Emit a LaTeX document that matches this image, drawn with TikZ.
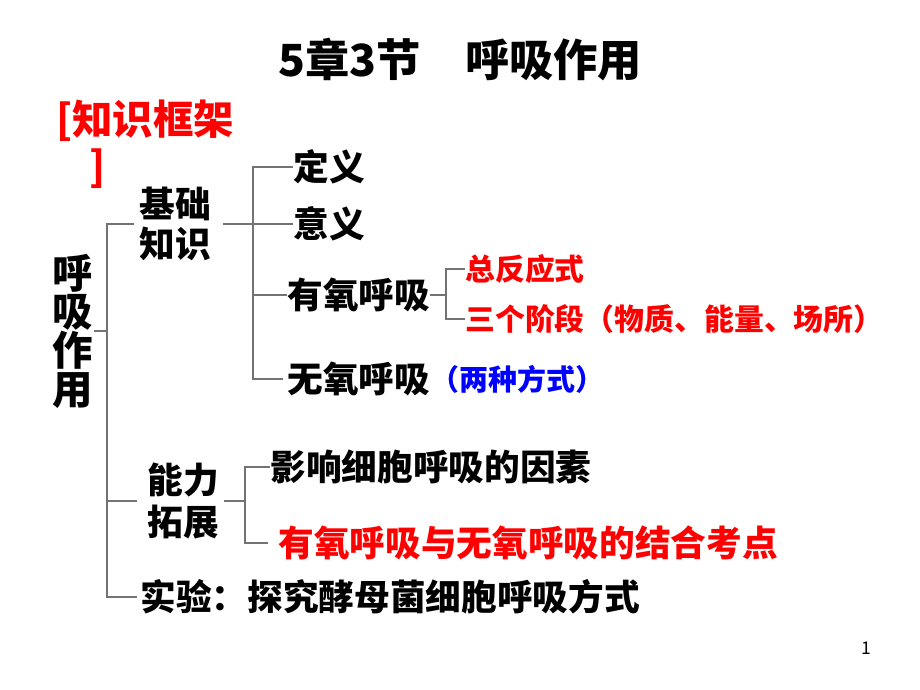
\documentclass[tikz,border=0pt]{standalone}
\usepackage{fontspec}
\setmainfont{Noto Sans CJK SC}
\usepackage{tikz}
\usetikzlibrary{calc,positioning}

\definecolor{pptred}{RGB}{255,0,0}
\definecolor{pptblue}{RGB}{0,0,255}

\begin{document}
\begin{tikzpicture}[
  x=0.02cm,
  y=-0.02cm,
  anchor=west,
  inner sep=0pt
]

  \useasboundingbox (0,0) rectangle (920,690);

  \tikzstyle{titlelab}=[font=\bfseries\fontsize{25.2}{30}\selectfont]
  \tikzstyle{framelab}=[text=pptred,align=left,font=\bfseries\fontsize{23}{26.6}\selectfont]
  \tikzstyle{rootlab}=[anchor=center,align=center,font=\bfseries\fontsize{23}{22}\selectfont]
  \tikzstyle{mainlab}=[font=\bfseries\fontsize{20.3}{22.7}\selectfont]
  \tikzstyle{redlab}=[mainlab,text=pptred]
  \tikzstyle{redsmall}=[text=pptred,font=\bfseries\fontsize{17}{20}\selectfont]
  \tikzstyle{bluelab}=[text=pptblue,font=\bfseries\fontsize{16.5}{20}\selectfont]
  \tikzstyle{pagenum}=[anchor=center,font=\fontsize{10}{12}\selectfont]

  \tikzstyle{branch}=[draw=black!55,line width=0.6pt]

  % nodes
  \node[titlelab] (title) at (278,60) {5章3节\hspace{1em}呼吸作用};
  \node[framelab,anchor=north west] (frame) at (56,100) {[知识框架\\\hspace*{19pt}]};

  \node[rootlab] (root) at (73,331) {呼\\吸\\作\\用};
  \node[mainlab,anchor=center,align=center] (jichu) at (175,224) {基础\\知识};
  \node[mainlab,anchor=center,align=center,font=\bfseries\fontsize{20.3}{24.4}\selectfont] (nengli) at (183,501) {能力\\拓展};
  \node[mainlab] (shiyan) at (140,597) {实验：探究酵母菌细胞呼吸方式};

  \node[mainlab] (dingyi) at (293,167) {定义};
  \node[mainlab] (yiyi) at (293,224) {意义};
  \node[mainlab] (youyang) at (287,295) {有氧呼吸};
  \node[mainlab] (wuyang) at (287,379) {无氧呼吸};
  \node[bluelab] (liangzhong) [right=0pt of wuyang] {（两种方式）};

  \node[redsmall] (zong) at (465,269) {总反应式};
  \node[redsmall] (sange) at (465,319) {三个阶段（物质、能量、场所）};

  \node[mainlab] (yingxiang) at (270,467) {影响细胞呼吸的因素};
  \node[redlab] (jiehe) at (278,543) {有氧呼吸与无氧呼吸的结合考点};

  \node[pagenum] (page) at (866,648) {1};

  % brackets
  \coordinate (spineA) at (107,0);
  \coordinate (spineB) at (253,0);
  \coordinate (spineC) at (446,0);
  \coordinate (spineD) at (245,0);

  \draw[branch] ($(jichu.west)+(-5,0)$) -- (jichu.west -| spineA) -- (shiyan.west -| spineA) -- ($(shiyan.west)+(-3,0)$);
  \draw[branch] (root.east) -- (root.east -| spineA);
  \draw[branch] ($(nengli.west)+(-10,0)$) -- (nengli.west -| spineA);

  \draw[branch] (dingyi.west) -- (dingyi.west -| spineB) -- (wuyang.west -| spineB) -- ($(wuyang.west)+(-4,0)$);
  \draw[branch] ($(jichu.east)+(12,0)$) -- (yiyi.west);
  \draw[branch] (youyang.west) -- (youyang.west -| spineB);

  \draw[branch] (zong.west) -- (zong.west -| spineC) -- (sange.west -| spineC) -- (sange.west);
  \draw[branch] (youyang.east) -- (youyang.east -| spineC);

  \draw[branch] ($(nengli.east)+(5,0)$) -- (nengli.east -| spineD);
  \draw[branch] (yingxiang.west) -- (yingxiang.west -| spineD) -- (jiehe.west -| spineD) -- ($(jiehe.west)+(-10,0)$);

\end{tikzpicture}
\end{document}
